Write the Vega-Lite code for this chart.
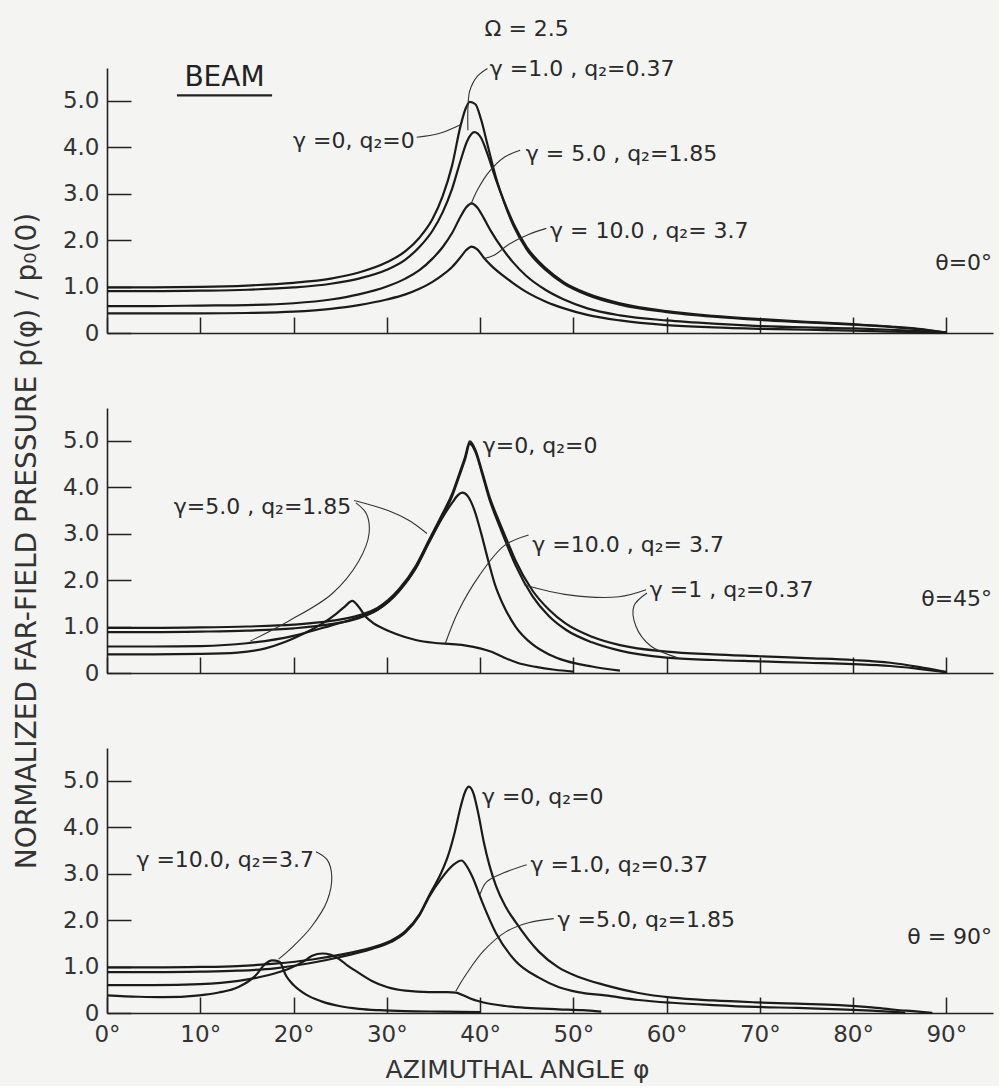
{
  "$schema": "https://vega.github.io/schema/vega-lite/v6.json",
  "background": "#f4f4f2",
  "padding": {"left": 13, "top": 17, "right": 6, "bottom": 4},
  "config": {
    "font": "DejaVu Sans",
    "view": {"stroke": null},
    "axis": {
      "grid": false,
      "domainColor": "#222222",
      "domainWidth": 1.6,
      "tickColor": "#222222",
      "tickWidth": 1.5,
      "labelFont": "DejaVu Sans",
      "labelFontSize": 23,
      "labelColor": "#333333",
      "labelFlush": false,
      "labelOverlap": false,
      "titleFont": "DejaVu Sans",
      "titleFontWeight": "normal",
      "titleColor": "#333333"
    }
  },
  "vconcat": [
    {
      "width": 886,
      "height": 265,
      "encoding": {
        "x": {"field": "phi", "type": "quantitative", "scale": {"domain": [0, 95], "nice": false, "zero": false},
              "axis": {"values": [0, 10, 20, 30, 40, 50, 60, 70, 80, 90], "labels": false, "tickSize": -16, "title": null}},
        "y": {"field": "val", "type": "quantitative", "scale": {"domain": [0, 5.7], "nice": false, "zero": false},
              "axis": {"values": [0, 1, 2, 3, 4, 5], "labelExpr": "datum.value == 0 ? '0' : format(datum.value, '.1f')", "tickSize": -24, "labelPadding": 32, "title": null}}
      },
      "layer": [
        {"data": {"name": "top_curves"}, "mark": {"type": "line", "interpolate": "monotone", "color": "#1b1b1b", "strokeWidth": 2.2}, "encoding": {"detail": {"field": "g"}}},
        {"data": {"name": "top_leaders"}, "mark": {"type": "line", "interpolate": "catmull-rom", "color": "#333333", "strokeWidth": 1.1}, "encoding": {"detail": {"field": "id"}, "order": {"field": "i"}}},
        {"data": {"values": [
          {"phi": 7.5, "val": 5.11}, {"phi": 17.7, "val": 5.11}
        ]}, "mark": {"type": "line", "color": "#222222", "strokeWidth": 2.2}, "encoding": {}},
        {"data": {"values": [
          {"label": "γ =1.0 , q₂=0.37", "phi": 41.05, "val": 5.52},
          {"label": "γ = 5.0 , q₂=1.85", "phi": 44.9, "val": 3.71},
          {"label": "γ = 10.0 , q₂= 3.7", "phi": 47.5, "val": 2.04}
        ]}, "mark": {"type": "text", "align": "left", "baseline": "alphabetic", "fontSize": 22, "color": "#2a2a2a"}, "encoding": {"text": {"field": "label"}}},
        {"data": {"values": [
          {"label": "γ =0, q₂=0", "phi": 33.0, "val": 3.97},
          {"label": "θ=0°", "phi": 94.9, "val": 1.35}
        ]}, "mark": {"type": "text", "align": "right", "baseline": "alphabetic", "fontSize": 22, "color": "#2a2a2a"}, "encoding": {"text": {"field": "label"}}},
        {"data": {"values": [
          {"label": "Ω = 2.5", "phi": 45.0, "val": 6.39}
        ]}, "mark": {"type": "text", "align": "center", "baseline": "alphabetic", "fontSize": 22, "color": "#2a2a2a"}, "encoding": {"text": {"field": "label"}}},
        {"data": {"values": [
          {"label": "BEAM", "phi": 12.6, "val": 5.32}
        ]}, "mark": {"type": "text", "align": "center", "baseline": "alphabetic", "fontSize": 28, "color": "#222222"}, "encoding": {"text": {"field": "label"}}}
      ]
    },
    {
      "width": 886,
      "height": 265,
      "encoding": {
        "x": {"field": "phi", "type": "quantitative", "scale": {"domain": [0, 95], "nice": false, "zero": false},
              "axis": {"values": [0, 10, 20, 30, 40, 50, 60, 70, 80, 90], "labels": false, "tickSize": -16, "title": null}},
        "y": {"field": "val", "type": "quantitative", "scale": {"domain": [0, 5.7], "nice": false, "zero": false},
              "axis": {"values": [0, 1, 2, 3, 4, 5], "labelExpr": "datum.value == 0 ? '0' : format(datum.value, '.1f')", "tickSize": -24, "labelPadding": 32,
                       "title": "NORMALIZED FAR-FIELD PRESSURE p(φ) / p₀(0)", "titleFontSize": 28, "titlePadding": 21}}
      },
      "layer": [
        {"data": {"name": "mid_curves"}, "mark": {"type": "line", "interpolate": "monotone", "color": "#1b1b1b", "strokeWidth": 2.2}, "encoding": {"detail": {"field": "g"}}},
        {"data": {"name": "mid_leaders"}, "mark": {"type": "line", "interpolate": "catmull-rom", "color": "#333333", "strokeWidth": 1.1}, "encoding": {"detail": {"field": "id"}, "order": {"field": "i"}}},
        {"data": {"values": [
          {"label": "γ=0, q₂=0", "phi": 40.3, "val": 4.74},
          {"label": "γ =10.0 , q₂= 3.7", "phi": 45.6, "val": 2.61},
          {"label": "γ =1 , q₂=0.37", "phi": 58.2, "val": 1.64}
        ]}, "mark": {"type": "text", "align": "left", "baseline": "alphabetic", "fontSize": 22, "color": "#2a2a2a"}, "encoding": {"text": {"field": "label"}}},
        {"data": {"values": [
          {"label": "γ=5.0 , q₂=1.85", "phi": 26.2, "val": 3.43},
          {"label": "θ=45°", "phi": 94.9, "val": 1.44}
        ]}, "mark": {"type": "text", "align": "right", "baseline": "alphabetic", "fontSize": 22, "color": "#2a2a2a"}, "encoding": {"text": {"field": "label"}}}
      ]
    },
    {
      "width": 886,
      "height": 265,
      "encoding": {
        "x": {"field": "phi", "type": "quantitative", "scale": {"domain": [0, 95], "nice": false, "zero": false},
              "axis": {"values": [0, 10, 20, 30, 40, 50, 60, 70, 80, 90], "labelExpr": "datum.value + '°'", "tickSize": -16, "labelPadding": 26,
                       "title": "AZIMUTHAL ANGLE φ", "titleFontSize": 25, "titlePadding": 11, "titleX": 410}},
        "y": {"field": "val", "type": "quantitative", "scale": {"domain": [0, 5.7], "nice": false, "zero": false},
              "axis": {"values": [0, 1, 2, 3, 4, 5], "labelExpr": "datum.value == 0 ? '0' : format(datum.value, '.1f')", "tickSize": -24, "labelPadding": 32, "title": null}}
      },
      "layer": [
        {"data": {"name": "bot_curves"}, "mark": {"type": "line", "interpolate": "monotone", "color": "#1b1b1b", "strokeWidth": 2.2}, "encoding": {"detail": {"field": "g"}}},
        {"data": {"name": "bot_leaders"}, "mark": {"type": "line", "interpolate": "catmull-rom", "color": "#333333", "strokeWidth": 1.1}, "encoding": {"detail": {"field": "id"}, "order": {"field": "i"}}},
        {"data": {"values": [
          {"label": "γ =0, q₂=0", "phi": 40.2, "val": 4.49},
          {"label": "γ =1.0, q₂=0.37", "phi": 45.4, "val": 3.04},
          {"label": "γ =5.0, q₂=1.85", "phi": 48.3, "val": 1.85}
        ]}, "mark": {"type": "text", "align": "left", "baseline": "alphabetic", "fontSize": 22, "color": "#2a2a2a"}, "encoding": {"text": {"field": "label"}}},
        {"data": {"values": [
          {"label": "γ =10.0, q₂=3.7", "phi": 22.2, "val": 3.13},
          {"label": "θ = 90°", "phi": 94.9, "val": 1.48}
        ]}, "mark": {"type": "text", "align": "right", "baseline": "alphabetic", "fontSize": 22, "color": "#2a2a2a"}, "encoding": {"text": {"field": "label"}}}
      ]
    }
  ],
  "spacing": 75,
  "bounds": "flush",
  "datasets": {
    "top_curves": [
      {"g":"0","phi":0,"val":0.98},{"g":"0","phi":5,"val":0.98},{"g":"0","phi":10,"val":0.99},{"g":"0","phi":15,"val":1.02},{"g":"0","phi":20,"val":1.08},{"g":"0","phi":24,"val":1.17},{"g":"0","phi":27,"val":1.3},{"g":"0","phi":30,"val":1.52},{"g":"0","phi":32,"val":1.76},{"g":"0","phi":33.5,"val":2.05},{"g":"0","phi":34.9,"val":2.45},{"g":"0","phi":36,"val":2.95},{"g":"0","phi":37,"val":3.6},{"g":"0","phi":37.9,"val":4.45},{"g":"0","phi":38.5,"val":4.85},{"g":"0","phi":38.9,"val":4.97},{"g":"0","phi":39.5,"val":4.92},{"g":"0","phi":40.1,"val":4.6},{"g":"0","phi":40.8,"val":4.05},{"g":"0","phi":41.7,"val":3.35},{"g":"0","phi":42.6,"val":2.8},{"g":"0","phi":43.6,"val":2.3},{"g":"0","phi":45,"val":1.8},{"g":"0","phi":47,"val":1.36},{"g":"0","phi":49,"val":1.06},{"g":"0","phi":51.5,"val":0.82},{"g":"0","phi":55,"val":0.61},{"g":"0","phi":60,"val":0.45},{"g":"0","phi":65,"val":0.35},{"g":"0","phi":70,"val":0.28},{"g":"0","phi":75,"val":0.23},{"g":"0","phi":80,"val":0.18},{"g":"0","phi":84,"val":0.13},{"g":"0","phi":87,"val":0.08},{"g":"0","phi":90,"val":0.01},
      {"g":"1","phi":0,"val":0.9},{"g":"1","phi":5,"val":0.9},{"g":"1","phi":10,"val":0.91},{"g":"1","phi":15,"val":0.93},{"g":"1","phi":20,"val":0.98},{"g":"1","phi":24,"val":1.06},{"g":"1","phi":27,"val":1.17},{"g":"1","phi":30,"val":1.36},{"g":"1","phi":32,"val":1.58},{"g":"1","phi":33.5,"val":1.85},{"g":"1","phi":34.9,"val":2.2},{"g":"1","phi":36,"val":2.6},{"g":"1","phi":37,"val":3.1},{"g":"1","phi":37.9,"val":3.7},{"g":"1","phi":38.6,"val":4.12},{"g":"1","phi":39.4,"val":4.32},{"g":"1","phi":40.1,"val":4.2},{"g":"1","phi":40.8,"val":3.85},{"g":"1","phi":41.7,"val":3.3},{"g":"1","phi":42.6,"val":2.82},{"g":"1","phi":43.6,"val":2.35},{"g":"1","phi":45,"val":1.85},{"g":"1","phi":47,"val":1.4},{"g":"1","phi":49,"val":1.09},{"g":"1","phi":51.5,"val":0.85},{"g":"1","phi":55,"val":0.64},{"g":"1","phi":60,"val":0.47},{"g":"1","phi":65,"val":0.37},{"g":"1","phi":70,"val":0.3},{"g":"1","phi":75,"val":0.24},{"g":"1","phi":80,"val":0.19},{"g":"1","phi":84,"val":0.14},{"g":"1","phi":87,"val":0.09},{"g":"1","phi":90,"val":0.01},
      {"g":"5","phi":0,"val":0.58},{"g":"5","phi":5,"val":0.58},{"g":"5","phi":10,"val":0.59},{"g":"5","phi":15,"val":0.6},{"g":"5","phi":20,"val":0.64},{"g":"5","phi":24,"val":0.72},{"g":"5","phi":27,"val":0.83},{"g":"5","phi":30,"val":1.0},{"g":"5","phi":32,"val":1.17},{"g":"5","phi":33.5,"val":1.35},{"g":"5","phi":34.9,"val":1.6},{"g":"5","phi":36,"val":1.85},{"g":"5","phi":37,"val":2.15},{"g":"5","phi":37.9,"val":2.5},{"g":"5","phi":38.5,"val":2.7},{"g":"5","phi":39.1,"val":2.79},{"g":"5","phi":39.7,"val":2.7},{"g":"5","phi":40.4,"val":2.47},{"g":"5","phi":41.2,"val":2.18},{"g":"5","phi":42.3,"val":1.84},{"g":"5","phi":43.5,"val":1.53},{"g":"5","phi":45,"val":1.22},{"g":"5","phi":47,"val":0.93},{"g":"5","phi":49,"val":0.72},{"g":"5","phi":51.5,"val":0.53},{"g":"5","phi":55,"val":0.38},{"g":"5","phi":60,"val":0.27},{"g":"5","phi":65,"val":0.2},{"g":"5","phi":70,"val":0.15},{"g":"5","phi":75,"val":0.12},{"g":"5","phi":80,"val":0.1},{"g":"5","phi":84,"val":0.07},{"g":"5","phi":87,"val":0.04},{"g":"5","phi":90,"val":0.01},
      {"g":"10","phi":0,"val":0.42},{"g":"10","phi":5,"val":0.42},{"g":"10","phi":10,"val":0.42},{"g":"10","phi":15,"val":0.43},{"g":"10","phi":20,"val":0.46},{"g":"10","phi":24,"val":0.52},{"g":"10","phi":27,"val":0.6},{"g":"10","phi":30,"val":0.72},{"g":"10","phi":32,"val":0.83},{"g":"10","phi":33.5,"val":0.95},{"g":"10","phi":34.9,"val":1.1},{"g":"10","phi":36,"val":1.25},{"g":"10","phi":37,"val":1.42},{"g":"10","phi":37.9,"val":1.63},{"g":"10","phi":38.5,"val":1.78},{"g":"10","phi":39.1,"val":1.86},{"g":"10","phi":39.7,"val":1.8},{"g":"10","phi":40.4,"val":1.62},{"g":"10","phi":41.2,"val":1.45},{"g":"10","phi":42.3,"val":1.26},{"g":"10","phi":43.5,"val":1.08},{"g":"10","phi":45,"val":0.88},{"g":"10","phi":47,"val":0.68},{"g":"10","phi":49,"val":0.53},{"g":"10","phi":51.5,"val":0.39},{"g":"10","phi":55,"val":0.27},{"g":"10","phi":60,"val":0.17},{"g":"10","phi":65,"val":0.12},{"g":"10","phi":70,"val":0.09},{"g":"10","phi":75,"val":0.07},{"g":"10","phi":80,"val":0.05},{"g":"10","phi":84,"val":0.03},{"g":"10","phi":87,"val":0.02},{"g":"10","phi":90,"val":0.01}
    ],
    "top_leaders": [
      {"id":"g1","i":1,"phi":40.8,"val":5.69},{"id":"g1","i":2,"phi":39.7,"val":5.52},{"id":"g1","i":3,"phi":38.9,"val":5.21},{"id":"g1","i":4,"phi":38.7,"val":4.83},{"id":"g1","i":5,"phi":38.7,"val":4.36},
      {"id":"g0","i":1,"phi":33.2,"val":4.21},{"id":"g0","i":2,"phi":35.6,"val":4.29},{"id":"g0","i":3,"phi":37.9,"val":4.48},
      {"id":"g5","i":1,"phi":44.3,"val":3.93},{"id":"g5","i":2,"phi":42.6,"val":3.78},{"id":"g5","i":3,"phi":40.9,"val":3.45},{"id":"g5","i":4,"phi":39.7,"val":3.07},{"id":"g5","i":5,"phi":39.0,"val":2.76},
      {"id":"g10","i":1,"phi":47.1,"val":2.25},{"id":"g10","i":2,"phi":45.2,"val":2.12},{"id":"g10","i":3,"phi":43.1,"val":1.91},{"id":"g10","i":4,"phi":41.5,"val":1.67},{"id":"g10","i":5,"phi":40.4,"val":1.6}
    ],
    "mid_curves": [
      {"g":"0","phi":0,"val":0.97},{"g":"0","phi":5,"val":0.97},{"g":"0","phi":10,"val":0.98},{"g":"0","phi":15,"val":1.0},{"g":"0","phi":20,"val":1.04},{"g":"0","phi":24,"val":1.12},{"g":"0","phi":27,"val":1.24},{"g":"0","phi":29,"val":1.4},{"g":"0","phi":31.3,"val":1.8},{"g":"0","phi":33.1,"val":2.3},{"g":"0","phi":34.5,"val":2.85},{"g":"0","phi":35.9,"val":3.4},{"g":"0","phi":37,"val":3.85},{"g":"0","phi":37.8,"val":4.3},{"g":"0","phi":38.4,"val":4.65},{"g":"0","phi":38.9,"val":4.98},{"g":"0","phi":39.5,"val":4.8},{"g":"0","phi":40.2,"val":4.35},{"g":"0","phi":41,"val":3.8},{"g":"0","phi":42,"val":3.28},{"g":"0","phi":43,"val":2.8},{"g":"0","phi":43.8,"val":2.42},{"g":"0","phi":45.6,"val":1.78},{"g":"0","phi":47.4,"val":1.36},{"g":"0","phi":49.2,"val":1.06},{"g":"0","phi":52,"val":0.78},{"g":"0","phi":55,"val":0.6},{"g":"0","phi":60,"val":0.46},{"g":"0","phi":65,"val":0.4},{"g":"0","phi":70,"val":0.36},{"g":"0","phi":75,"val":0.32},{"g":"0","phi":80,"val":0.28},{"g":"0","phi":84,"val":0.22},{"g":"0","phi":87,"val":0.13},{"g":"0","phi":90,"val":0.02},
      {"g":"1","phi":0,"val":0.88},{"g":"1","phi":5,"val":0.88},{"g":"1","phi":10,"val":0.89},{"g":"1","phi":15,"val":0.91},{"g":"1","phi":20,"val":0.96},{"g":"1","phi":24,"val":1.05},{"g":"1","phi":27,"val":1.18},{"g":"1","phi":29,"val":1.36},{"g":"1","phi":31.3,"val":1.76},{"g":"1","phi":33.1,"val":2.26},{"g":"1","phi":34.5,"val":2.8},{"g":"1","phi":35.9,"val":3.35},{"g":"1","phi":37,"val":3.8},{"g":"1","phi":37.8,"val":4.25},{"g":"1","phi":38.4,"val":4.6},{"g":"1","phi":38.9,"val":4.93},{"g":"1","phi":39.5,"val":4.76},{"g":"1","phi":40.2,"val":4.3},{"g":"1","phi":41,"val":3.74},{"g":"1","phi":42,"val":3.2},{"g":"1","phi":43,"val":2.7},{"g":"1","phi":43.8,"val":2.32},{"g":"1","phi":45.6,"val":1.66},{"g":"1","phi":47.4,"val":1.22},{"g":"1","phi":49.2,"val":0.93},{"g":"1","phi":52,"val":0.66},{"g":"1","phi":55,"val":0.48},{"g":"1","phi":60,"val":0.33},{"g":"1","phi":65,"val":0.28},{"g":"1","phi":70,"val":0.25},{"g":"1","phi":75,"val":0.22},{"g":"1","phi":80,"val":0.19},{"g":"1","phi":84,"val":0.15},{"g":"1","phi":87,"val":0.09},{"g":"1","phi":90,"val":0.02},
      {"g":"5","phi":0,"val":0.57},{"g":"5","phi":5,"val":0.57},{"g":"5","phi":10,"val":0.58},{"g":"5","phi":15,"val":0.64},{"g":"5","phi":20,"val":0.8},{"g":"5","phi":24,"val":1.02},{"g":"5","phi":27,"val":1.2},{"g":"5","phi":29,"val":1.36},{"g":"5","phi":31.3,"val":1.76},{"g":"5","phi":33.1,"val":2.25},{"g":"5","phi":34.5,"val":2.8},{"g":"5","phi":35.9,"val":3.32},{"g":"5","phi":37,"val":3.66},{"g":"5","phi":37.6,"val":3.82},{"g":"5","phi":38.1,"val":3.88},{"g":"5","phi":38.7,"val":3.8},{"g":"5","phi":39.4,"val":3.5},{"g":"5","phi":40.1,"val":3.02},{"g":"5","phi":40.9,"val":2.4},{"g":"5","phi":41.6,"val":1.9},{"g":"5","phi":42.4,"val":1.5},{"g":"5","phi":43.8,"val":1.0},{"g":"5","phi":45.6,"val":0.62},{"g":"5","phi":47.4,"val":0.4},{"g":"5","phi":49.2,"val":0.26},{"g":"5","phi":52,"val":0.14},{"g":"5","phi":55,"val":0.05},
      {"g":"10","phi":0,"val":0.4},{"g":"10","phi":5,"val":0.4},{"g":"10","phi":10,"val":0.41},{"g":"10","phi":14,"val":0.44},{"g":"10","phi":17,"val":0.53},{"g":"10","phi":19,"val":0.66},{"g":"10","phi":21,"val":0.84},{"g":"10","phi":23,"val":1.05},{"g":"10","phi":24.5,"val":1.26},{"g":"10","phi":25.5,"val":1.43},{"g":"10","phi":26.3,"val":1.55},{"g":"10","phi":27,"val":1.42},{"g":"10","phi":27.7,"val":1.22},{"g":"10","phi":28.5,"val":1.08},{"g":"10","phi":29.5,"val":0.97},{"g":"10","phi":31,"val":0.84},{"g":"10","phi":33.1,"val":0.71},{"g":"10","phi":35,"val":0.65},{"g":"10","phi":37,"val":0.62},{"g":"10","phi":38.5,"val":0.59},{"g":"10","phi":40,"val":0.53},{"g":"10","phi":41.3,"val":0.45},{"g":"10","phi":42.5,"val":0.34},{"g":"10","phi":44,"val":0.22},{"g":"10","phi":46,"val":0.13},{"g":"10","phi":48,"val":0.07},{"g":"10","phi":50,"val":0.03}
    ],
    "mid_leaders": [
      {"id":"g5a","i":1,"phi":26.5,"val":3.71},{"id":"g5a","i":2,"phi":30.2,"val":3.49},{"id":"g5a","i":3,"phi":32.4,"val":3.28},{"id":"g5a","i":4,"phi":34.3,"val":3.0},
      {"id":"g5b","i":1,"phi":26.7,"val":3.66},{"id":"g5b","i":2,"phi":27.8,"val":3.43},{"id":"g5b","i":3,"phi":28.1,"val":3.0},{"id":"g5b","i":4,"phi":27.0,"val":2.41},{"id":"g5b","i":5,"phi":24.1,"val":1.7},{"id":"g5b","i":6,"phi":19.5,"val":1.12},{"id":"g5b","i":7,"phi":15.4,"val":0.69},
      {"id":"g10","i":1,"phi":45.2,"val":2.97},{"id":"g10","i":2,"phi":42.6,"val":2.74},{"id":"g10","i":3,"phi":39.9,"val":2.09},{"id":"g10","i":4,"phi":37.7,"val":1.34},{"id":"g10","i":5,"phi":36.3,"val":0.65},
      {"id":"g1a","i":1,"phi":57.8,"val":1.79},{"id":"g1a","i":2,"phi":54.9,"val":1.64},{"id":"g1a","i":3,"phi":49.5,"val":1.68},{"id":"g1a","i":4,"phi":44.7,"val":1.9},
      {"id":"g1b","i":1,"phi":57.9,"val":1.72},{"id":"g1b","i":2,"phi":56.5,"val":1.44},{"id":"g1b","i":3,"phi":56.7,"val":1.01},{"id":"g1b","i":4,"phi":58.3,"val":0.58},{"id":"g1b","i":5,"phi":61.3,"val":0.32}
    ],
    "bot_curves": [
      {"g":"0","phi":0,"val":0.98},{"g":"0","phi":5,"val":0.98},{"g":"0","phi":10,"val":0.99},{"g":"0","phi":14,"val":1.01},{"g":"0","phi":18,"val":1.06},{"g":"0","phi":22,"val":1.15},{"g":"0","phi":24.9,"val":1.25},{"g":"0","phi":28.4,"val":1.41},{"g":"0","phi":30.5,"val":1.56},{"g":"0","phi":32,"val":1.76},{"g":"0","phi":33.5,"val":2.12},{"g":"0","phi":34.6,"val":2.55},{"g":"0","phi":35.8,"val":3.0},{"g":"0","phi":36.6,"val":3.4},{"g":"0","phi":37.3,"val":3.9},{"g":"0","phi":37.9,"val":4.42},{"g":"0","phi":38.4,"val":4.76},{"g":"0","phi":38.8,"val":4.87},{"g":"0","phi":39.3,"val":4.72},{"g":"0","phi":39.8,"val":4.3},{"g":"0","phi":40.4,"val":3.68},{"g":"0","phi":41,"val":3.18},{"g":"0","phi":41.7,"val":2.74},{"g":"0","phi":42.7,"val":2.3},{"g":"0","phi":43.8,"val":1.96},{"g":"0","phi":46.3,"val":1.32},{"g":"0","phi":48.4,"val":0.98},{"g":"0","phi":50.5,"val":0.78},{"g":"0","phi":53.4,"val":0.6},{"g":"0","phi":57,"val":0.43},{"g":"0","phi":60.6,"val":0.33},{"g":"0","phi":65,"val":0.27},{"g":"0","phi":69.5,"val":0.23},{"g":"0","phi":74,"val":0.2},{"g":"0","phi":78.5,"val":0.17},{"g":"0","phi":82,"val":0.12},{"g":"0","phi":84.5,"val":0.07},{"g":"0","phi":87,"val":0.03},{"g":"0","phi":88.5,"val":0.0},
      {"g":"1","phi":0,"val":0.88},{"g":"1","phi":5,"val":0.88},{"g":"1","phi":10,"val":0.89},{"g":"1","phi":14,"val":0.91},{"g":"1","phi":18,"val":0.96},{"g":"1","phi":22,"val":1.08},{"g":"1","phi":24.9,"val":1.2},{"g":"1","phi":28.4,"val":1.38},{"g":"1","phi":30.5,"val":1.53},{"g":"1","phi":32,"val":1.73},{"g":"1","phi":33.5,"val":2.1},{"g":"1","phi":34.6,"val":2.52},{"g":"1","phi":35.8,"val":2.88},{"g":"1","phi":37.1,"val":3.18},{"g":"1","phi":38,"val":3.28},{"g":"1","phi":38.6,"val":3.15},{"g":"1","phi":39.2,"val":2.92},{"g":"1","phi":40.2,"val":2.4},{"g":"1","phi":41.7,"val":1.72},{"g":"1","phi":43.8,"val":1.12},{"g":"1","phi":46.3,"val":0.76},{"g":"1","phi":48.4,"val":0.56},{"g":"1","phi":50.5,"val":0.45},{"g":"1","phi":53.4,"val":0.38},{"g":"1","phi":57,"val":0.28},{"g":"1","phi":60.6,"val":0.22},{"g":"1","phi":65,"val":0.17},{"g":"1","phi":69.5,"val":0.13},{"g":"1","phi":74,"val":0.11},{"g":"1","phi":78.5,"val":0.08},{"g":"1","phi":82,"val":0.05},{"g":"1","phi":85.6,"val":0.01},
      {"g":"5","phi":0,"val":0.6},{"g":"5","phi":5,"val":0.6},{"g":"5","phi":10,"val":0.62},{"g":"5","phi":14.1,"val":0.69},{"g":"5","phi":17,"val":0.8},{"g":"5","phi":19.5,"val":0.95},{"g":"5","phi":21,"val":1.1},{"g":"5","phi":22,"val":1.23},{"g":"5","phi":23.1,"val":1.28},{"g":"5","phi":24,"val":1.25},{"g":"5","phi":24.9,"val":1.16},{"g":"5","phi":25.8,"val":1.02},{"g":"5","phi":26.7,"val":0.9},{"g":"5","phi":28.4,"val":0.69},{"g":"5","phi":30,"val":0.56},{"g":"5","phi":32,"val":0.48},{"g":"5","phi":34.5,"val":0.45},{"g":"5","phi":36.5,"val":0.45},{"g":"5","phi":37.4,"val":0.44},{"g":"5","phi":38.2,"val":0.38},{"g":"5","phi":39.1,"val":0.3},{"g":"5","phi":40.5,"val":0.22},{"g":"5","phi":42.7,"val":0.15},{"g":"5","phi":45,"val":0.11},{"g":"5","phi":48.4,"val":0.08},{"g":"5","phi":51,"val":0.06},{"g":"5","phi":53,"val":0.03},
      {"g":"10","phi":0,"val":0.38},{"g":"10","phi":3.4,"val":0.35},{"g":"10","phi":6,"val":0.34},{"g":"10","phi":9.9,"val":0.38},{"g":"10","phi":12,"val":0.44},{"g":"10","phi":14.1,"val":0.56},{"g":"10","phi":15.9,"val":0.8},{"g":"10","phi":17,"val":1.06},{"g":"10","phi":17.7,"val":1.13},{"g":"10","phi":18.5,"val":1.1},{"g":"10","phi":19.2,"val":0.8},{"g":"10","phi":20,"val":0.6},{"g":"10","phi":21.3,"val":0.4},{"g":"10","phi":23,"val":0.25},{"g":"10","phi":24.9,"val":0.15},{"g":"10","phi":27,"val":0.09},{"g":"10","phi":29.2,"val":0.06},{"g":"10","phi":32,"val":0.04},{"g":"10","phi":36,"val":0.03},{"g":"10","phi":40,"val":0.02}
    ],
    "bot_leaders": [
      {"id":"g1","i":1,"phi":45.0,"val":3.19},{"id":"g1","i":2,"phi":42.6,"val":3.02},{"id":"g1","i":3,"phi":40.7,"val":2.82},{"id":"g1","i":4,"phi":40.0,"val":2.55},
      {"id":"g5","i":1,"phi":47.9,"val":2.03},{"id":"g5","i":2,"phi":45.2,"val":1.94},{"id":"g5","i":3,"phi":42.8,"val":1.75},{"id":"g5","i":4,"phi":40.4,"val":1.34},{"id":"g5","i":5,"phi":38.6,"val":0.86},{"id":"g5","i":6,"phi":37.4,"val":0.47},
      {"id":"g10","i":1,"phi":22.4,"val":3.47},{"id":"g10","i":2,"phi":23.6,"val":3.3},{"id":"g10","i":3,"phi":24.1,"val":2.93},{"id":"g10","i":4,"phi":23.6,"val":2.41},{"id":"g10","i":5,"phi":21.9,"val":1.85},{"id":"g10","i":6,"phi":20.0,"val":1.44},{"id":"g10","i":7,"phi":18.4,"val":1.16}
    ]
  }
}
